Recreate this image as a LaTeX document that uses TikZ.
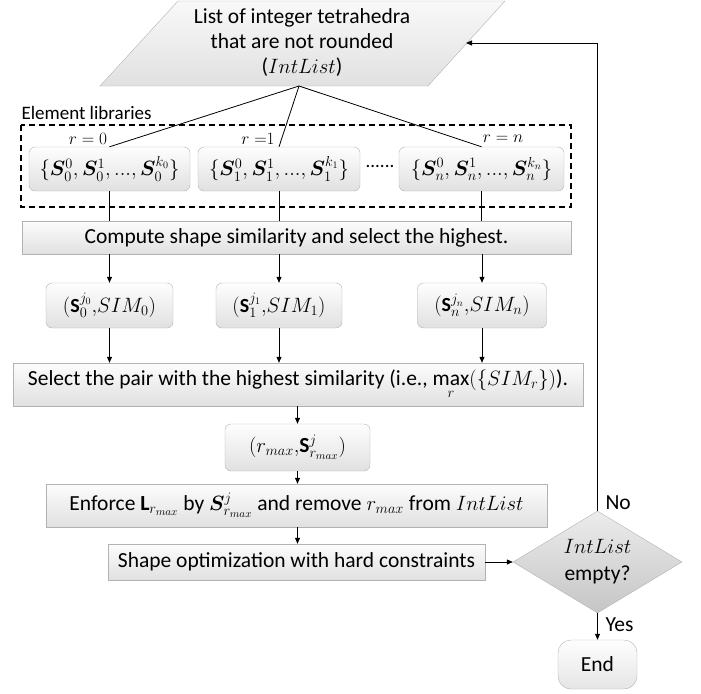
\documentclass[tikz,border=0pt]{standalone}
\usepackage{amsmath}
\usepackage{bm}
\usepackage{fontspec}
\setmainfont{Carlito}
\usetikzlibrary{shapes.geometric,arrows.meta}
\begin{document}
\begin{tikzpicture}[x=1pt,y=-1pt,
  every node/.style={font=\fontsize{21.5}{25}\selectfont},
  rbox/.style={draw=gray!60, top color=gray!1, bottom color=gray!24, rounded corners=6pt, inner sep=0pt},
  sbox/.style={draw=gray!60, top color=gray!2, bottom color=gray!24, inner sep=0pt},
  para/.style={draw=gray!60, top color=gray!5, bottom color=gray!24},
  dia/.style={diamond, aspect=1.66, draw=gray!60, top color=gray!15, bottom color=gray!45, inner sep=0pt, align=center},
  dbox/.style={line width=1.2pt, dash pattern=on 6pt off 4pt},
  ln/.style={line width=0.8pt},
  arr/.style={line width=0.8pt, -{Triangle[length=6pt,width=5pt]}},
  small/.style={font=\fontsize{16}{18}\selectfont},
  lbl/.style={font=\fontsize{19}{22}\selectfont},
  mth/.style={font=\fontsize{20}{24}\selectfont}
]
\useasboundingbox (0,0) rectangle (701,693);

% parallelogram
\path[para] (178,1) -- (505,1) -- (428,86) -- (100,86) -- cycle;
\node[align=center] (list) at (302,43) {List of integer tetrahedra\\that are not rounded\\($IntList$)};
\coordinate (lb) at (299,86);
\coordinate (lr) at (466,43);

% element libraries
\draw[dbox] (21,125) rectangle (571,207);
\node[anchor=west, lbl] (ellab) at (18,113) {Element libraries};
\node[rbox, mth, minimum width=161pt, minimum height=44pt] (lib0) at (109.5,169) {$\{\boldsymbol{S}_0^0{,}\,\boldsymbol{S}_0^1{,}\,{.}{.}{.}{,}\,\boldsymbol{S}_0^{k_0}\}$};
\node[rbox, mth, minimum width=162pt, minimum height=44pt] (lib1) at (279,169) {$\{\boldsymbol{S}_1^0{,}\,\boldsymbol{S}_1^1{,}\,{.}{.}{.}{,}\,\boldsymbol{S}_1^{k_1}\}$};
\node[rbox, mth, minimum width=165pt, minimum height=44pt] (libn) at (481.5,169) {$\{\boldsymbol{S}_n^0{,}\,\boldsymbol{S}_n^1{,}\,{.}{.}{.}{,}\,\boldsymbol{S}_n^{k_n}\}$};
\node[small] (r0) at (88,139) {$r = 0$};
\node[small] (r1) at (258,139) {$r\;{=}1$};
\node[small] (rn) at (503,139) {$r = n$};
\node[lbl] (dots) at (380,166) {......};

\node[sbox, minimum width=549pt, minimum height=33pt] (comp) at (296.5,237.5) {Compute shape similarity and select the highest.};

\node[rbox, mth, minimum width=127pt, minimum height=45pt] (sim0) at (109.5,305.5) {$(\mathbf{S}_0^{j_0}{,}SIM_0)$};
\node[rbox, mth, minimum width=126pt, minimum height=45pt] (sim1) at (279,305.5) {$(\mathbf{S}_1^{j_1}{,}SIM_1)$};
\node[rbox, mth, minimum width=129pt, minimum height=45pt] (simn) at (482,305.5) {$(\mathbf{S}_n^{j_n}{,}SIM_n)$};

\node[sbox, minimum width=570pt, minimum height=43pt] (sel) at (298,384.5) {Select the pair with the highest similarity (i.e., $\max\limits_{r}(\{SIM_r\})$).};

\node[rbox, minimum width=145pt, minimum height=47pt] (rmax) at (297.5,447.5) {$(r_{max}{,}\mathbf{S}^{j}_{r_{max}})$};

\node[sbox, minimum width=501pt, minimum height=43pt] (enf) at (296.5,505.5) {Enforce $\mathbf{L}_{r_{max}}$ by $\boldsymbol{S}^{j}_{r_{max}}$ and remove $r_{max}$ from $IntList$};

\node[sbox, minimum width=377pt, minimum height=36pt] (opt) at (296.5,562) {Shape optimization with hard constraints};

\node[dia, minimum width=169pt, minimum height=102pt, font=\fontsize{21.5}{27}\selectfont] (dec) at (597.5,562) {$IntList$\\empty?};

\node[draw=gray!60, top color=gray!1, bottom color=gray!20, rounded corners=13pt, minimum width=79pt, minimum height=49pt, inner sep=0pt] (end) at (597.5,664.5) {End};

\node[anchor=west] (no) at (602,503) {No};
\node[anchor=west] (yes) at (602,625) {Yes};

% connectors
\draw[ln] (lb) -- (lib0.north);
\draw[ln] (lb) -- (lib1.north);
\draw[ln] (lb) -- (libn.north);
\draw[ln] (lib0.south) -- (lib0.south |- comp.north);
\draw[ln] (lib1.south) -- (lib1.south |- comp.north);
\draw[ln] (libn.south) -- (libn.south |- comp.north);
\draw[arr] (sim0.north |- comp.south) -- (sim0.north);
\draw[arr] (sim1.north |- comp.south) -- (sim1.north);
\draw[arr] (simn.north |- comp.south) -- (simn.north);
\draw[arr] (sim0.south) -- (sim0.south |- sel.north);
\draw[arr] (sim1.south) -- (sim1.south |- sel.north);
\draw[arr] (simn.south) -- (simn.south |- sel.north);
\draw[arr] (rmax.north |- sel.south) -- (rmax.north);
\draw[arr] (rmax.south) -- (rmax.south |- enf.north);
\draw[arr] (rmax.south |- enf.south) -- (rmax.south |- opt.north);
\draw[arr] (opt.east) -- (dec.west);
\draw[arr] (dec.north) -- (dec.north |- lr) -- (lr);
\draw[arr] (dec.south) -- (end.north);
\end{tikzpicture}
\end{document}
